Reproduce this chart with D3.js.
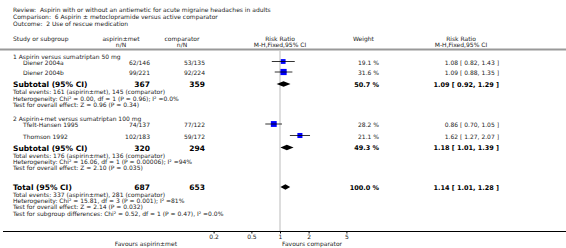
<!DOCTYPE html>
<html>
<head>
<meta charset="utf-8">
<script src="https://cdn.jsdelivr.net/npm/d3@7"></script>
<style>
  body { margin: 0; background: #fff; }
  svg { display: block; font-family: "DejaVu Sans", Verdana, sans-serif; }
  text { white-space: pre; }
</style>
</head>
<body>
<svg id="forest" width="566" height="248"></svg>
<script>
const W = 566, H = 248;

// study level data
const studies = ["Diener 2004a", "Diener 2004b", "Tfelt-Hansen 1995", "Thomson 1992"];
const expNN = ["62/146", "99/221", "74/137", "102/183"];
const ctrlNN = ["53/135", "92/224", "77/122", "59/172"];
const rr = [1.08, 1.09, 0.86, 1.62];
const rrLo = [0.82, 0.88, 0.70, 1.27];
const rrHi = [1.43, 1.35, 1.05, 2.07];
const weights = [19.1, 31.6, 28.2, 21.1];

// subgroup + overall
const groupNames = ["1 Aspirin versus sumatriptan 50 mg", "2 Aspirin+met versus sumatriptan 100 mg"];
const poolLabels = ["Subtotal (95% CI)", "Subtotal (95% CI)", "Total (95% CI)"];
const poolExpN = [367, 320, 687];
const poolCtrlN = [359, 294, 653];
const poolRR = [1.09, 1.18, 1.14];
const poolLo = [0.92, 1.01, 1.01];
const poolHi = [1.29, 1.39, 1.28];
const poolWeight = [50.7, 49.3, 100.0];
const poolNotes = [
  ["Total events: 161 (aspirin±met), 145 (comparator)",
   "Heterogeneity: Chi² = 0.00, df = 1 (P = 0.96); I² =0.0%",
   "Test for overall effect: Z = 0.96 (P = 0.34)"],
  ["Total events: 176 (aspirin±met), 136 (comparator)",
   "Heterogeneity: Chi² = 16.06, df = 1 (P = 0.00006); I² =94%",
   "Test for overall effect: Z = 2.10 (P = 0.035)"],
  ["Total events: 337 (aspirin±met), 281 (comparator)",
   "Heterogeneity: Chi² = 15.81, df = 3 (P = 0.001); I² =81%",
   "Test for overall effect: Z = 2.14 (P = 0.032)",
   "Test for subgroup differences: Chi² = 0.52, df = 1 (P = 0.47), I² =0.0%"]
];

const titleLines = [
  "Review:  Aspirin with or without an antiemetic for acute migraine headaches in adults",
  "Comparison:  6 Aspirin ± metoclopramide versus active comparator",
  "Outcome:  2 Use of rescue medication"
];
const tickVals = [0.2, 0.5, 1, 2, 5];

// layout
const rowY = [62.5, 73, 125, 136.5];       // study rows
const groupY = [56.5, 118.5];
const poolY = [84.5, 148, 187.5];
const noteY = [[92, 98.5, 104.5], [155.5, 161.5, 167.5], [194.5, 201, 207, 213.5]];
const axisY = 231.5;

const x = d3.scaleLog().domain([0.01, 100]).range([90, 470]);
const sq = d3.scaleSqrt().domain([0, 100]).range([0, 11]);
const fmt = d3.format(".2f");
const ci = (m, l, h) => `${fmt(m)} [ ${fmt(l)}, ${fmt(h)} ]`;

const svg = d3.select("#forest");
const txt = "#222";

function t(xp, yp, s, o = {}) {
  return svg.append("text")
    .attr("x", xp).attr("y", yp)
    .attr("dy", "0.35em")
    .attr("font-size", o.size || 6)
    .attr("font-weight", o.bold ? "bold" : null)
    .attr("text-anchor", o.anchor || "start")
    .attr("fill", o.fill || txt)
    .text(s);
}

// title block
titleLines.forEach((s, i) => t(13, 10 + i * 7, s));

// headers
t(13, 39, "Study or subgroup");
t(121, 39, "aspirin±met", { anchor: "middle" });
t(121, 45, "n/N", { anchor: "middle" });
t(182, 39, "comparator", { anchor: "middle" });
t(182, 45, "n/N", { anchor: "middle" });
t(280, 39, "Risk Ratio", { anchor: "middle" });
t(280, 45, "M-H,Fixed,95% CI", { anchor: "middle" });
t(353, 39, "Weight");
t(461, 39, "Risk Ratio", { anchor: "middle" });
t(461, 45, "M-H,Fixed,95% CI", { anchor: "middle" });

svg.append("line")
  .attr("x1", 0).attr("x2", W).attr("y1", 49.5).attr("y2", 49.5)
  .attr("stroke", "#999").attr("stroke-width", 2);

// reference line at RR = 1
svg.append("line")
  .attr("x1", x(1)).attr("x2", x(1)).attr("y1", 51).attr("y2", axisY)
  .attr("stroke", "#ddd").attr("stroke-width", 2);

// group headings
groupNames.forEach((g, i) => t(13, groupY[i], g));

// studies
studies.forEach((s, i) => {
  const y = rowY[i];
  t(23, y, s);
  t(150, y, expNN[i], { anchor: "end" });
  t(205, y, ctrlNN[i], { anchor: "end" });
  t(379, y, weights[i].toFixed(1) + " %", { anchor: "end" });
  t(499, y, ci(rr[i], rrLo[i], rrHi[i]), { anchor: "end" });
});

const sq_g = svg.append("g");
sq_g.selectAll("line.ci")
  .data(studies)
  .join("line")
  .attr("class", "ci")
  .attr("x1", (d, i) => x(rrLo[i])).attr("x2", (d, i) => x(rrHi[i]))
  .attr("y1", (d, i) => rowY[i] - 1).attr("y2", (d, i) => rowY[i] - 1)
  .attr("stroke", "#000").attr("stroke-width", 0.8);
sq_g.selectAll("rect")
  .data(studies)
  .join("rect")
  .attr("x", (d, i) => x(rr[i]) - sq(weights[i]) / 2)
  .attr("y", (d, i) => rowY[i] - 1 - sq(weights[i]) / 2)
  .attr("width", (d, i) => sq(weights[i]))
  .attr("height", (d, i) => sq(weights[i]))
  .attr("fill", "#0000ff");
sq_g.selectAll("line.mid")
  .data(studies)
  .join("line")
  .attr("class", "mid")
  .attr("x1", (d, i) => x(rr[i]) - sq(weights[i]) / 2)
  .attr("x2", (d, i) => x(rr[i]) + sq(weights[i]) / 2)
  .attr("y1", (d, i) => rowY[i] - 1).attr("y2", (d, i) => rowY[i] - 1)
  .attr("stroke", "#000").attr("stroke-width", 0.8);

// pooled rows
poolLabels.forEach((lab, i) => {
  const y = poolY[i];
  t(13, y, lab, { bold: true, size: 7.5, fill: "#000" });
  t(150, y, poolExpN[i], { anchor: "end", bold: true, size: 7.5, fill: "#000" });
  t(205, y, poolCtrlN[i], { anchor: "end", bold: true, size: 7.5, fill: "#000" });
  t(379, y, poolWeight[i].toFixed(1) + " %", { anchor: "end", bold: true, size: 6.5, fill: "#000" });
  t(499, y, ci(poolRR[i], poolLo[i], poolHi[i]), { anchor: "end", bold: true, size: 6.5, fill: "#000" });
  poolNotes[i].forEach((n, j) => t(13, noteY[i][j], n));
});

svg.append("g").selectAll("path")
  .data(poolRR)
  .join("path")
  .attr("d", (d, i) => {
    const y = poolY[i] - 0.5, h = 2.8;
    return `M${x(poolLo[i])},${y}L${x(d)},${y - h}L${x(poolHi[i])},${y}L${x(d)},${y + h}Z`;
  })
  .attr("fill", "#000");

// axis
svg.append("line")
  .attr("x1", 3).attr("x2", W).attr("y1", axisY).attr("y2", axisY)
  .attr("stroke", "#000").attr("stroke-width", 1);

const ax = svg.append("g")
  .attr("transform", `translate(0,${axisY})`)
  .call(d3.axisBottom(x).tickValues(tickVals).tickFormat(d => d).tickSize(2).tickPadding(1));
ax.select(".domain").remove();
ax.selectAll("text").attr("font-size", 6).attr("font-family", "DejaVu Sans, Verdana, sans-serif").attr("fill", txt);
ax.selectAll("line").attr("stroke", "#000");

t(177, 244, "Favours aspirin±met", { anchor: "end" });
t(282, 244, "Favours comparator");
</script>
</body>
</html>
